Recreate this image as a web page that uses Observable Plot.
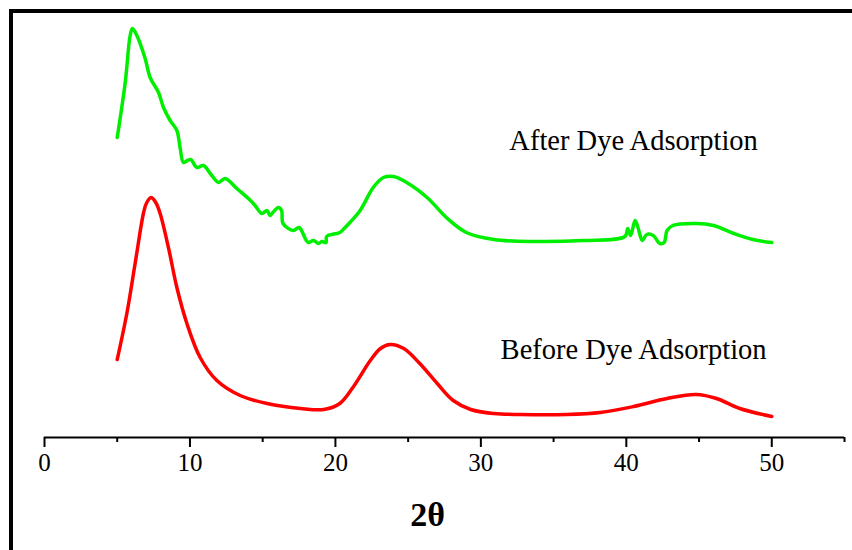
<!DOCTYPE html>
<html><head><meta charset="utf-8">
<script src="https://cdn.jsdelivr.net/npm/d3@7"></script>
<script src="https://cdn.jsdelivr.net/npm/@observablehq/plot@0.6"></script>
<style>
body{margin:0;background:#fff;}
#wrap{position:relative;width:852px;height:550px;overflow:hidden;background:#fff;}
#border{position:absolute;left:9px;top:9px;right:-10px;bottom:-10px;border-left:4px solid #000;border-top:4px solid #000;pointer-events:none;}
</style></head>
<body><div id="wrap"><div id="chart"></div><div id="border"></div></div>
<script>
// Before dye adsorption (red)
const beforeT = [5.0, 5.66, 6.23, 6.8, 7.0, 7.33, 7.65, 7.95, 8.52, 9.1, 9.79, 10.7, 11.85, 13.45, 15.3, 17.6, 19.2, 20.3, 21.2, 22.4, 23.1, 23.76, 24.7, 25.8, 27.0, 28.1, 29.3, 30.9, 32.7, 35.9, 38.2, 40.5, 42.8, 44.8, 46.2, 47.8, 50.0];
const beforeI = [78, 124, 174, 224, 234, 240, 235, 224, 190, 150, 114, 80, 57, 42, 34, 29, 28, 34, 50, 77, 89, 93, 89, 74, 54, 37, 28, 24, 23, 23, 25, 31, 39, 43, 39, 29, 21];
// After dye adsorption (green)
const afterT = [5.0, 5.55, 5.89, 6.05, 6.35, 6.92, 7.26, 7.84, 8.18, 8.64, 9.1, 9.33, 9.55, 9.83, 10.06, 10.47, 10.93, 11.4, 11.96, 12.42, 13.22, 14.02, 14.48, 14.94, 15.3, 15.5, 15.7, 16.08, 16.3, 16.4, 17.1, 17.5, 18.0, 18.15, 18.5, 18.83, 19.07, 19.36, 19.4, 20.3, 20.6, 21.0, 21.7, 22.6, 23.3, 24.0, 24.9, 26.3, 27.7, 29.0, 30.9, 33.6, 37.0, 39.9, 40.1, 40.3, 40.6, 40.8, 41.1, 41.4, 41.85, 42.3, 42.6, 42.8, 43.2, 44.8, 46.0, 47.4, 48.7, 50.0];
const afterI = [300, 355, 402, 409, 402, 379, 360, 345, 330, 317, 307, 289, 275, 277, 278, 270, 272, 264, 255, 259, 249, 239, 232, 224, 227, 222, 225, 230, 227, 214, 207, 210, 197, 195, 197, 194, 196, 195, 201, 205, 209, 215, 227, 250, 260, 261, 255, 240, 219, 205, 198, 196, 197, 201, 209, 202, 217, 210, 197, 203, 202, 194, 195, 207, 212, 214, 212, 204, 198, 195];
// Axis ticks
const majorTicks = [0, 10, 20, 30, 40, 50];
const minorTicks = [5, 15, 25, 35, 45, 55];
const tickLabels = ["0", "10", "20", "30", "40", "50"];
// Annotations
const labelText = ["After Dye Adsorption", "Before Dye Adsorption"];
const labelX = [40.5, 40.5];
const labelY = [297, 88];
const xTitle = "2θ";

const before = beforeT.map((t, i) => ({t, v: beforeI[i]}));
const after = afterT.map((t, i) => ({t, v: afterI[i]}));
const labels = labelText.map((s, i) => ({s, x: labelX[i], y: labelY[i]}));
const ticks = majorTicks.map((t, i) => ({t, s: tickLabels[i]}));

const chart = Plot.plot({
  width: 852, height: 550,
  marginLeft: 44, marginRight: 8, marginTop: 12, marginBottom: 113,
  style: {fontFamily: "'Liberation Serif', 'Times New Roman', serif", background: "white", color: "black"},
  x: {domain: [0, 55], label: null},
  y: {domain: [0, 425], axis: null, label: null},
  marks: [
    Plot.ruleY([0], {stroke: "black", strokeWidth: 2}),
    Plot.axisX(majorTicks, {tickSize: 10, strokeWidth: 2, stroke: "black", label: null, text: null}),
    Plot.axisX(minorTicks, {tickSize: 5, strokeWidth: 2, stroke: "black", label: null, text: null}),
    Plot.text(ticks, {x: "t", text: "s", frameAnchor: "bottom", dy: 33, fontSize: 25, fill: "black"}),
    Plot.line(before, {x: "t", y: "v", stroke: "#ff0000", strokeWidth: 3.5, curve: "catmull-rom"}),
    Plot.line(after, {x: "t", y: "v", stroke: "#00ee00", strokeWidth: 3.5, curve: "catmull-rom"}),
    Plot.text(labels, {x: "x", y: "y", text: "s", fontSize: 28.5, fill: "black"}),
    Plot.text([xTitle], {text: d => d, frameAnchor: "bottom", dx: -17, dy: 88, fontSize: 34, fontWeight: "bold", fill: "black"})
  ]
});
document.getElementById("chart").appendChild(chart);
</script>
</body></html>
